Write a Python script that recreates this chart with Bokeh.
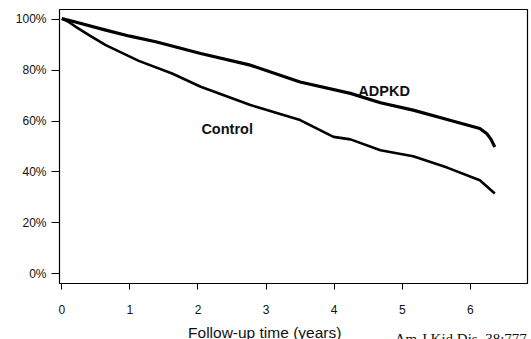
from bokeh.plotting import figure
from bokeh.models import Range1d, FixedTicker, Label
from bokeh.core.properties import value
from bokeh.embed import file_html
from bokeh.resources import INLINE

# Data (Kaplan-Meier style survival curves)
adpkd_t = [0, 0.2, 0.645, 1.0, 1.38, 2.04, 2.77, 3.5, 4.24, 4.68, 5.16, 5.66, 6.14, 6.24, 6.30, 6.36]
adpkd_s = [1.003, 0.99, 0.958, 0.934, 0.912, 0.866, 0.82, 0.754, 0.709, 0.672, 0.643, 0.606, 0.571, 0.551, 0.53, 0.498]

control_t = [0, 0.1, 0.2, 0.4, 0.645, 1.13, 1.62, 2.04, 2.77, 3.5, 3.99, 4.24, 4.68, 5.16, 5.66, 6.14, 6.36]
control_s = [1.003, 0.99, 0.972, 0.938, 0.899, 0.837, 0.787, 0.735, 0.663, 0.604, 0.538, 0.528, 0.485, 0.462, 0.417, 0.367, 0.315]

x_ticks = [0, 1, 2, 3, 4, 5, 6]
y_ticks = [0, 0.2, 0.4, 0.6, 0.8, 1.0]
y_tick_labels = ["0%", "20%", "40%", "60%", "80%", "100%"]

x_label = "Follow-up time (years)"
citation = "Am J Kid Dis, 38:777"

p = figure(width=531, height=339, output_backend="svg", toolbar_location=None,
           x_range=Range1d(-0.034, 6.84), y_range=Range1d(-0.039, 1.039),
           min_border_left=59, min_border_right=4, min_border_top=9, min_border_bottom=56)

p.background_fill_color = "white"
p.border_fill_color = "white"
p.outline_line_color = "black"
p.outline_line_width = 1.2
p.xgrid.visible = False
p.ygrid.visible = False

p.line(adpkd_t, adpkd_s, line_color="black", line_width=3.2, line_join="round")
p.line(control_t, control_s, line_color="black", line_width=2.6, line_join="round")

for ax in (p.xaxis[0], p.yaxis[0]):
    ax.axis_line_color = None
    ax.major_tick_line_color = "black"
    ax.major_tick_in = 0
    ax.minor_tick_line_color = None
    ax.major_label_text_font = "Liberation Sans"
    ax.major_label_text_font_size = "12px"
    ax.major_label_text_color = "#111111"

p.xaxis.ticker = FixedTicker(ticks=x_ticks)
p.xaxis.major_tick_out = 6
p.xaxis.major_label_standoff = 15

p.yaxis.ticker = FixedTicker(ticks=y_ticks)
p.yaxis.major_label_overrides = {t: l for t, l in zip(y_ticks, y_tick_labels)}
p.yaxis.major_tick_out = 8
p.yaxis.major_label_standoff = 5

p.add_layout(Label(x=4.355, y=0.719, text="ADPKD", text_font="Liberation Sans",
                   text_font_style="bold", text_font_size="14.5px", text_baseline="middle",
                   text_color="#111111"))
p.add_layout(Label(x=2.05, y=0.568, text="Control", text_font="Liberation Sans",
                   text_font_style="bold", text_font_size="14.5px", text_baseline="middle",
                   text_color="#111111"))

# Texts below the frame: overlay level so they are drawn outside the frame
p.text(x=[2.98], y=[-0.233], text=[x_label], text_font=value("Liberation Sans"),
       text_font_size="15.5px", text_align="center", text_baseline="alphabetic",
       text_color="#111111", level="overlay")
p.text(x=[4.89], y=[-0.259], text=[citation], text_font=value("Liberation Serif"),
       text_font_size="15px", text_align="left", text_baseline="alphabetic",
       text_color="#111111", level="overlay")

open("out.html", "w").write(file_html(p, INLINE))
